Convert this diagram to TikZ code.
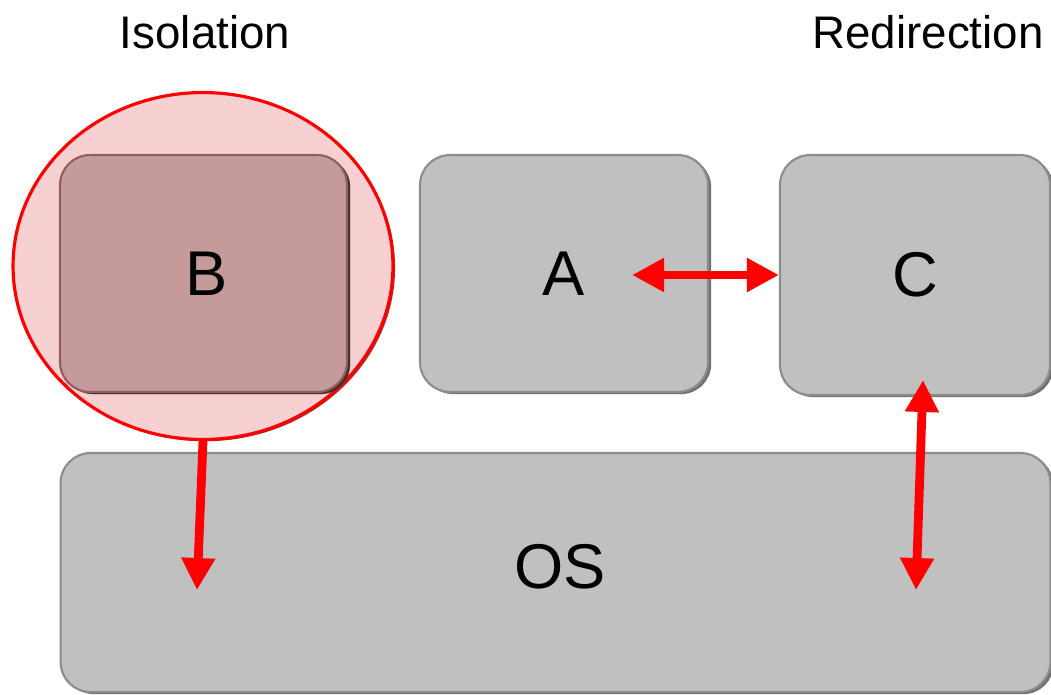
\documentclass[tikz,border=0pt]{standalone}
\usepackage{fontspec}
\setmainfont{Liberation Sans}
\usepackage{tikz}
\usetikzlibrary{shapes.geometric, arrows.meta, shadows}
\definecolor{boxgray}{HTML}{C0C0C0}
\definecolor{boxedge}{HTML}{8C8C8C}
\definecolor{isofill}{HTML}{F7D0D1}
\definecolor{bfill}{HTML}{C49A9B}
\definecolor{bedge}{HTML}{8E5E60}
\definecolor{arrowred}{HTML}{FF0000}

\begin{document}
\begin{tikzpicture}[x=0.02cm, y=-0.02cm, box/.style={rectangle, rounded corners=0.6cm, fill=boxgray, draw=boxedge, line width=1.2pt, drop shadow={shadow xshift=1.8pt, shadow yshift=-1.2pt, fill=black!70, opacity=0.8}, font=\fontsize{36}{40}\selectfont}, iso/.style={ellipse, fill=isofill, draw=arrowred, line width=1.8pt, minimum width=7.6cm, minimum height=6.94cm, drop shadow={shadow xshift=1.2pt, shadow yshift=-1pt, fill=arrowred!50!black, opacity=0.8}}, title/.style={font=\fontsize{26}{30}\selectfont}, n/.style={{Triangle[width=0.64cm, length=0.64cm]}-, arrowred, line width=5pt}, d/.style={{Triangle[width=0.64cm, length=0.64cm]}-{Triangle[width=0.64cm, length=0.64cm]}, arrowred, line width=5pt}]
        \useasboundingbox (0,0) rectangle (1051,694);
        % nodes
        \node[title] (isolation) at (205,32) {Isolation};
        \node[title] (redirection) at (928,32) {Redirection};
        \node[iso] (ring) at (203,266) {};
        \node[box, fill=bfill, draw=bedge, drop shadow={shadow xshift=1.8pt, shadow yshift=-1.2pt, fill=bedge!40!black, opacity=0.8}, minimum width=5.74cm, minimum height=4.74cm] (B) at (203.5,273.5) {};
        \node[font=\fontsize{36}{40}\selectfont] (b) at (207,273.5) {B};
        \node[box, minimum width=5.76cm, minimum height=4.74cm] (A) at (564,273.5) {A};
        \node[box, minimum width=5.4cm, minimum height=4.8cm] (C) at (915,275) {C};
        \node[box, minimum width=19.8cm, minimum height=4.78cm] (OS) at (555.5,572.5) {};
        \node[font=\fontsize{36}{40}\selectfont] (os) at (560,567) {OS};
        \coordinate (a-in) at (632,275);
        \coordinate (c-in) at (923,380);
        \coordinate (os-b) at (197,590);
        \coordinate (os-c) at (916,590);
        % edges
        \draw [n] (os-b) -- (ring.south);
        \draw [d] (a-in) -- (C.west);
        \draw [d] (c-in) -- (os-c);
    \end{tikzpicture}
\end{document}
